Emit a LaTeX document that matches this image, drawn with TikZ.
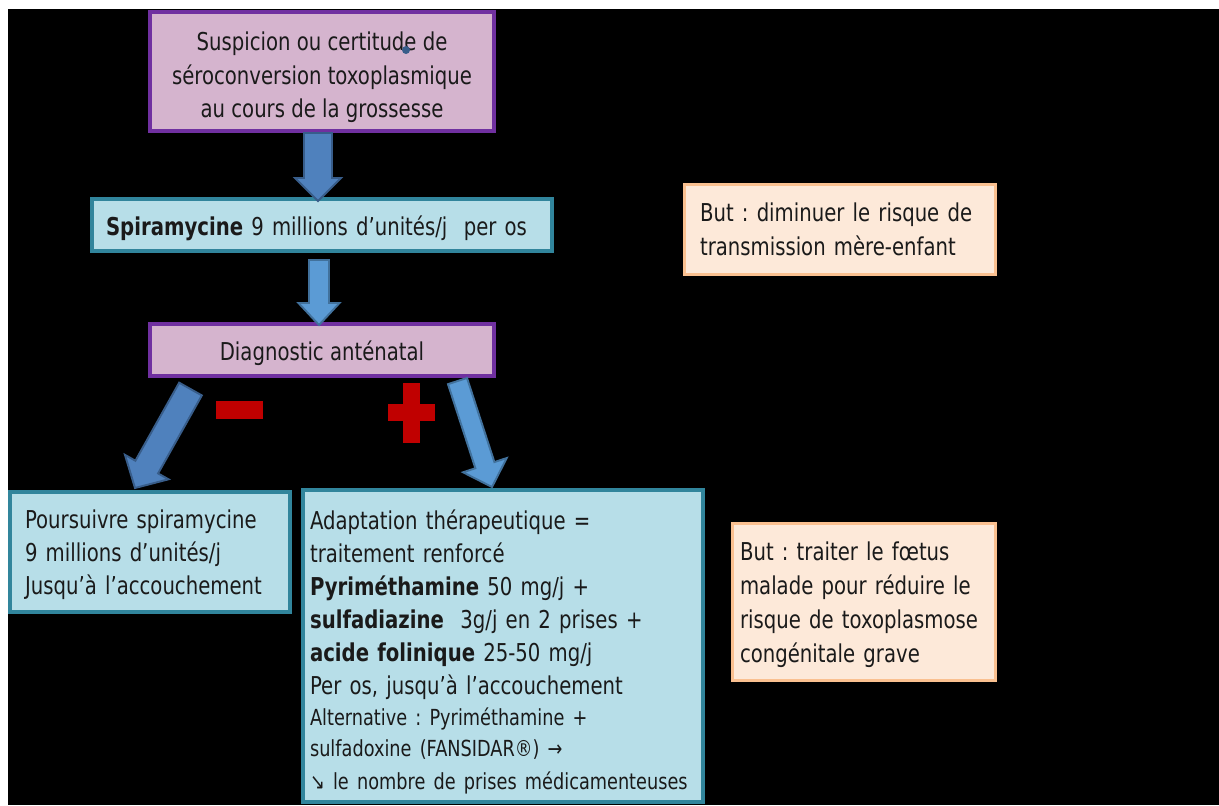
\documentclass[tikz,border=0pt]{standalone}
\usepackage{fontspec}
\setmainfont{DejaVu Sans}[FakeStretch=0.8]
\frenchspacing
\usepackage{tikz}
\usetikzlibrary{positioning, calc}

\definecolor{rosefill}{HTML}{D5B4CE}
\definecolor{violetline}{HTML}{7030A0}
\definecolor{aquafill}{HTML}{B7DEE8}
\definecolor{aqualine}{HTML}{31859C}
\definecolor{peachfill}{HTML}{FDE9D9}
\definecolor{peachline}{HTML}{FAC090}
\definecolor{arrowdark}{HTML}{4F81BD}
\definecolor{arrowdarkline}{HTML}{385D8A}
\definecolor{arrowlight}{HTML}{5B9BD5}
\definecolor{arrowlightline}{HTML}{41719C}
\definecolor{signred}{HTML}{C00000}
\definecolor{textgrey}{HTML}{1A1A1A}

% invisible strut to push a text block down
\newcommand{\topgap}[1]{\rule{0pt}{#1}}

% block arrow: [style]{tail}{tip}{half shaft}{half head}{head length}
\newcommand{\blockarrow}[6][]{%
  \coordinate (#3-base) at ($(#3)!#6!(#2)$);
  \draw[#1] ($(#2)!#4!90:(#3)$) -- ($(#3-base)!#4!90:(#3)$) -- ($(#3-base)!#5!90:(#3)$)
    -- (#3) -- ($(#3-base)!#5!-90:(#3)$) -- ($(#3-base)!#4!-90:(#3)$) -- ($(#2)!#4!-90:(#3)$) -- cycle;
}

\begin{document}
\begin{tikzpicture}[x=0.02cm, y=-0.02cm,
    rosebox/.style={draw=violetline, fill=rosefill, line width=2.3pt, text=textgrey, align=center, font=\fontsize{14}{19}\selectfont},
    aquabox/.style={draw=aqualine, fill=aquafill, line width=2.3pt, text=textgrey, align=left, font=\fontsize{14}{18.8}\selectfont},
    goalbox/.style={draw=peachline, fill=peachfill, line width=1.7pt, text=textgrey, align=left, font=\fontsize{14}{19.3}\selectfont},
    oneline/.style={text height=15pt, text depth=3.5pt},
    fatarrow/.style={fill=arrowdark, draw=arrowdarkline, line width=1.1pt, line join=miter},
    slimarrow/.style={fill=arrowlight, draw=arrowlightline, line width=1.1pt, line join=miter},
    sign/.style={fill=signred}
]
\useasboundingbox (0,0) rectangle (1219,805);
\fill[white] (0,0) rectangle (1219,805);
\fill[black] (8,9) rectangle (1219,805);

% Main chain
\node[rosebox, minimum width=6.88cm, minimum height=2.38cm] (susp) at (322,71.5)
  {\topgap{17.4pt}Suspicion ou certitude de\\séroconversion toxoplasmique\\au cours de la grossesse};
\node[aquabox, oneline, text width=8.64cm, inner xsep=0.28cm, minimum height=1.04cm, below=1.28cm of susp] (spira)
  {\textbf{Spiramycine} 9 millions d’unités/j\ \ per os};
\node[rosebox, oneline, minimum width=6.9cm, minimum height=1.04cm, below=1.38cm of spira] (diag)
  {Diagnostic anténatal};

% Outcomes
\node[aquabox, text width=5cm, inner xsep=0.3cm, minimum height=2.4cm] (pours) at (150,552)
  {\topgap{14pt}Poursuivre spiramycine\\9 millions d’unités/j\\Jusqu’à l’accouchement};
\node[aquabox, text width=7.72cm, inner xsep=0.14cm, minimum height=6.24cm] (adapt) at (503,646)
  {\topgap{17.7pt}Adaptation thérapeutique =\\traitement renforcé\\\textbf{Pyriméthamine} 50 mg/j +\\\textbf{sulfadiazine}\ \ 3g/j en 2 prises +\\\textbf{acide folinique} 25-50 mg/j\\Per os, jusqu’à l’accouchement\\
  {\fontsize{12.6}{17.6}\selectfont Alternative : Pyriméthamine +\\sulfadoxine (FANSIDAR®) →\\↘ le nombre de prises médicamenteuses}};

% Goals
\node[goalbox, text width=5.6cm, inner xsep=0.31cm, minimum height=1.8cm] (goalA) at (840,229.5)
  {But : diminuer le risque de\\transmission mère-enfant};
\node[goalbox, text width=4.96cm, inner xsep=0.15cm, minimum height=3.14cm] (goalB) at (864,602)
  {\topgap{14pt}But : traiter le fœtus\\malade pour réduire le\\risque de toxoplasmose\\congénitale grave};

% Arrow ends
\coordinate (suspout) at ($(susp.south)+(-4,0)$);
\coordinate (spirain) at ($(spira.north)+(-4,4)$);
\coordinate (spiraout) at ($(spira.south)+(-3,7)$);
\coordinate (diagin) at ($(diag.north)+(-3,3)$);
\coordinate (negout) at ($(diag.south west)+(43,11)$);
\coordinate (poursin) at ($(pours.north)+(-15,-2)$);
\coordinate (posout) at ($(diag.south east)+(-39,3)$);
\coordinate (adaptin) at ($(adapt.north)+(-11,-1)$);

% Connections
\blockarrow[fatarrow]{suspout}{spirain}{0.28cm}{0.46cm}{0.46cm}
\blockarrow[slimarrow]{spiraout}{diagin}{0.2cm}{0.41cm}{0.44cm}
\blockarrow[fatarrow]{negout}{poursin}{0.26cm}{0.5cm}{0.48cm}
\blockarrow[slimarrow]{posout}{adaptin}{0.2cm}{0.46cm}{0.46cm}

% Signs
\fill[sign] (216,401) rectangle (263,419);
\fill[sign] (388,404) rectangle (435,421);
\fill[sign] (403,383) rectangle (420,443);

\fill[arrowdarkline] (406,50) circle (0.08cm);

\end{tikzpicture}
\end{document}
